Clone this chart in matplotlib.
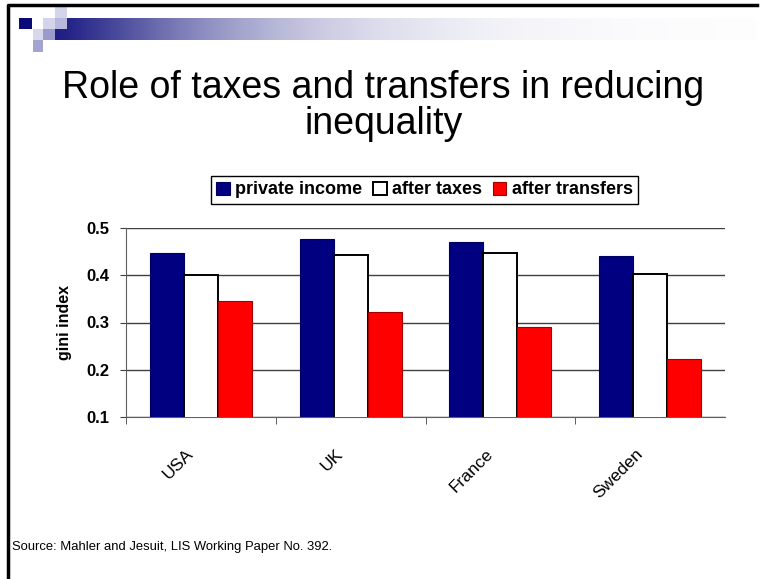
import numpy as np
import matplotlib
matplotlib.use("Agg")
import matplotlib.pyplot as plt
import matplotlib.transforms as mtransforms
from matplotlib.patches import Rectangle

plt.rcParams['font.family'] = ['Liberation Sans', 'DejaVu Sans']

# gini index per country, before and after redistribution
countries = ["USA", "UK", "France", "Sweden"]
private_income = [0.446, 0.476, 0.469, 0.440]
after_taxes = [0.400, 0.442, 0.447, 0.402]
after_transfers = [0.345, 0.322, 0.290, 0.223]
series_names = ["private income", "after taxes", "after transfers"]
yticks = [0.1, 0.2, 0.3, 0.4, 0.5]

W, H = 767, 579
fig = plt.figure(figsize=(W / 100, H / 100), dpi=100)

# slide decoration drawn in pixel coordinates
deco = fig.add_axes([0, 0, 1, 1])
deco.set_xlim(0, W)
deco.set_ylim(H, 0)
deco.axis("off")

# header band fading from navy to white
xs = np.linspace(0, 702, 400)
grad = np.exp(-(xs / 200) ** 1.3)[None, :]
navy = np.array([0.12, 0.12, 0.52])
band = np.ones((1, 400, 3)) - grad[..., None] * (1 - navy)
deco.imshow(band, extent=(55, 757, 40, 18), aspect="auto", zorder=1)

squares = [
    (19, 18, 13, 11, "#0a0a78"),
    (55, 7, 12, 11, "#d4d4ea"),
    (43, 18, 12, 11, "#d4d4ea"),
    (55, 18, 12, 11, "#b8b8dc"),
    (33, 29, 10, 11, "#d8d8ec"),
    (43, 29, 12, 11, "#9a9acc"),
    (33, 40, 10, 12, "#a4a4d0"),
]
for x0, y0, w, h, c in squares:
    deco.add_patch(Rectangle((x0, y0), w, h, color=c, lw=0, zorder=2))

# slide frame (left and top edges)
deco.plot([8, 8, 757], [H, 5, 5], color="black", lw=2.5, zorder=3)

fig.text(0.5, 1 - 88 / H, "Role of taxes and transfers in reducing",
         ha="center", va="center", fontsize=27)
fig.text(0.5, 1 - 124 / H, "inequality",
         ha="center", va="center", fontsize=27)
fig.text(12 / W, 1 - 547 / H, "Source: Mahler and Jesuit, LIS Working Paper No. 392.",
         ha="left", va="center", fontsize=9.4)

# chart
ax = fig.add_axes([126 / W, 1 - 417.3 / H, (725 - 126) / W, (417.3 - 227.7) / H])
x = np.arange(len(countries))
bw = 0.227
ax.bar(x - bw, private_income, bw, color="#000080", edgecolor="#000060", lw=0.8,
       label=series_names[0], zorder=3)
ax.bar(x, after_taxes, bw, color="white", edgecolor="black", lw=1.4,
       label=series_names[1], zorder=3)
ax.bar(x + bw, after_transfers, bw, color="#ff0000", edgecolor="#a00000", lw=0.8,
       label=series_names[2], zorder=3)

ax.set_xlim(-0.5, len(countries) - 0.5)
ax.set_ylim(0.1, 0.5)
ax.set_yticks(yticks)
ax.set_yticklabels([f"{v:.1f}" for v in yticks], fontsize=12, fontweight="bold")
ax.yaxis.grid(True, color="#404040", lw=1)
ax.set_axisbelow(True)

ax.set_xticks(x)
ax.set_xticklabels(countries, rotation=45, ha="right", va="top", fontsize=12.5,
                   rotation_mode="anchor")
ax.tick_params(axis="x", which="major", length=0, pad=21)
shift = mtransforms.ScaledTranslation(-0.15, 0, fig.dpi_scale_trans)
for lbl in ax.get_xticklabels():
    lbl.set_transform(lbl.get_transform() + shift)
ax.set_xticks(np.arange(-0.5, len(countries) - 0.5, 1), minor=True)
ax.tick_params(axis="x", which="minor", length=5, color="#404040", direction="out")
ax.tick_params(axis="y", length=4, color="#404040", pad=8)

for side in ["top", "right"]:
    ax.spines[side].set_visible(False)
for side in ["left", "bottom"]:
    ax.spines[side].set_color("#606060")

ax.set_ylabel("gini index", fontsize=11.5, fontweight="bold", labelpad=10)

ax.legend(loc="center", bbox_to_anchor=(424.5 / W, 1 - 190 / H),
          bbox_transform=fig.transFigure, ncol=3, frameon=True, fancybox=False,
          edgecolor="black", framealpha=1, handlelength=0.75, handleheight=0.75,
          handletextpad=0.3, columnspacing=0.6, borderpad=0.3,
          prop={"size": 13, "weight": "bold"})

fig.savefig("out.png", dpi=100)
